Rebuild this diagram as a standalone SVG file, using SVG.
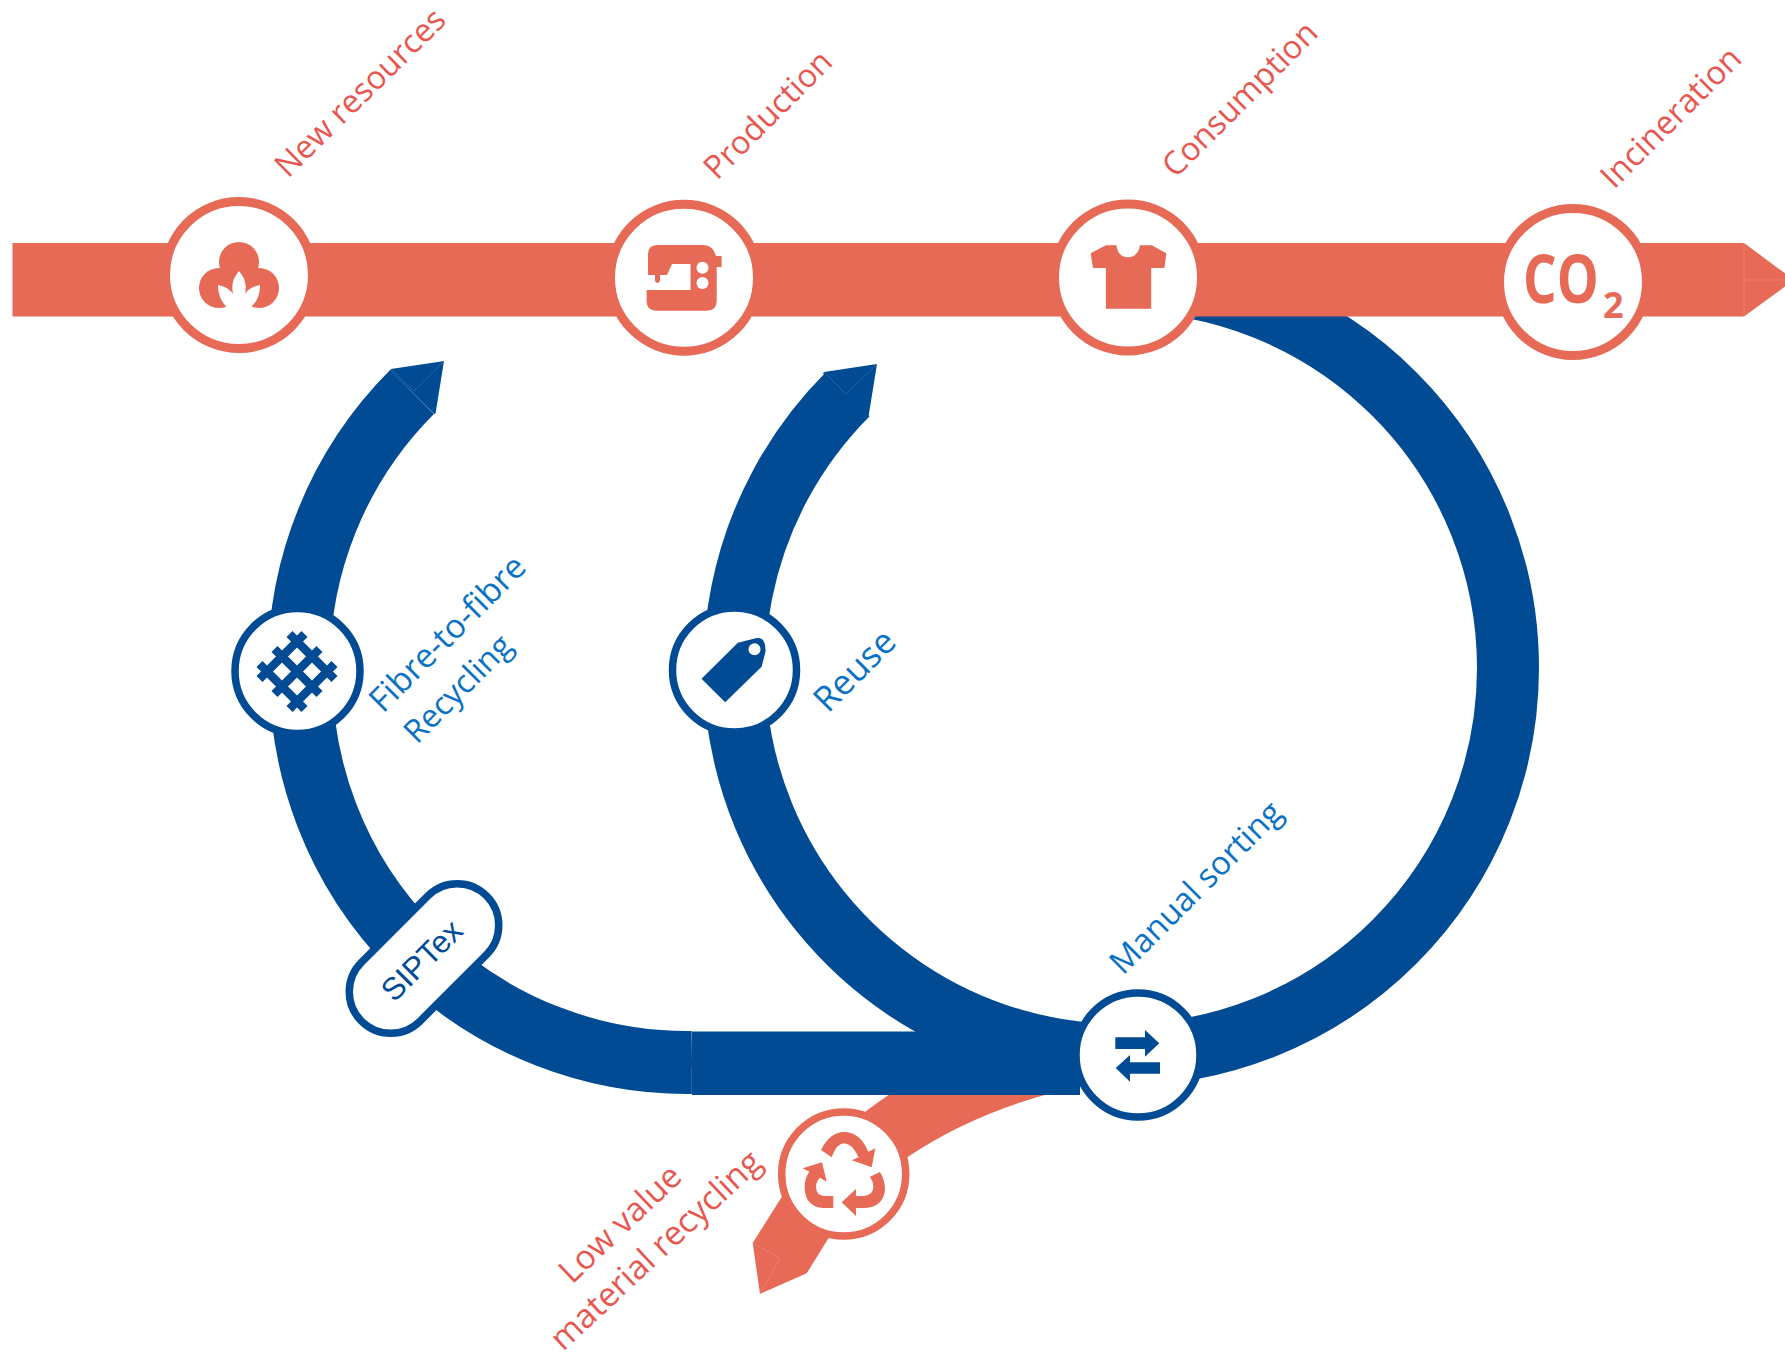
<svg xmlns="http://www.w3.org/2000/svg" width="1785" height="1356" viewBox="0 0 1785 1356">
<style>
.r{fill:#E66A55}
.b{fill:#014B95}
.cr{fill:#fff;stroke:#E66A55;stroke-width:9}
.cb{fill:#fff;stroke:#014B95;stroke-width:7.5}
.arc{fill:none;stroke:#014B95;stroke-width:62}
.lr{font-family:"Open Sans","Noto Sans",sans-serif;fill:#E8574F}
.lb{font-family:"Open Sans","Noto Sans",sans-serif;fill:#0A72C4}
.seam{fill:none;stroke:#fff;stroke-width:.6;stroke-opacity:.25}
</style>
<rect width="1785" height="1356" fill="#fff"/>
<g id="connectors">
<path id="tail" class="r" d="M896 1090Q820 1140 781.700 1197L752.700 1243L760 1294L806.700 1273.300L828 1239L908 1156.700Q975 1112 1060 1091Z"/>
<path class="seam" d="M752.700 1243L780 1258.300L760 1294"/>
<path class="arc" d="M1121 1055A387 387 0 0 0 1121 281"/>
<path class="arc" d="M847.500 394.500A387 387 0 0 0 1121 1055"/>
<polygon class="b" points="824,372 877,364 868.600,416 867.500,417.200 823,373.200"/>
<path class="seam" d="M824 372L846 394L877 364"/>
<path class="arc" d="M412 392A386 386 0 0 0 299 670"/>
<path class="arc" style="stroke-width:63" d="M301 670A386.500 386.500 0 0 0 692 1062.500"/>
<polygon class="b" points="391,369 444,361 435.600,413 434.500,414.200 390,370.200"/>
<path class="seam" d="M391 369L414 391L444 361"/>
<rect class="b" x="692" y="1031.500" width="388" height="63.500"/>
<path class="seam" d="M691.500 1067V1095"/>
<polygon id="main-bar" class="r" points="12.500,243 1744,243 1794,280 1744,316.500 12.500,316.500"/>
<path class="seam" d="M1744 243V316.500M1744 280H1785"/>
</g>
<g id="new-resources">
<circle class="cr" cx="239" cy="275" r="73.500"/>
<circle class="r" cx="239" cy="262" r="20"/><circle class="r" cx="219" cy="288" r="20"/><circle class="r" cx="259" cy="288" r="20"/>
<path fill="#fff" d="M239 271C233 278 231 285 233 294C230 289 224 286 218 285C218 294 221 302 227 307L227 314H251V307C257 302 260 294 260 285C254 286 248 289 245 294C247 285 245 278 239 271Z"/>
<text class="lr" font-size="32.300" transform="translate(288 179) rotate(-44.500)">New resources</text>
</g>
<g id="production">
<circle class="cr" cx="684" cy="277.700" r="73.500"/>
<path class="r" d="M648 275V254Q648 245 658 245H703Q713 245 716 256H721.600V267H716.700V301Q716.700 310.700 707 310.700H656Q646.600 310.700 646.600 301V290H690.500V264H672L667 275H660V281Q657.500 285 655 281V275Z"/>
<circle cx="702.500" cy="267.700" r="6" fill="#fff"/><circle cx="702.500" cy="283" r="6" fill="#fff"/>
<text class="lr" font-size="32.300" transform="translate(717 181) rotate(-45)">Production</text>
</g>
<g id="consumption">
<circle class="cr" cx="1128" cy="277.500" r="73.500"/>
<path class="r" d="M1090.700 253.300L1105.900 245.300H1116.600C1117 253 1122 257.300 1128 257.300C1134 257.300 1139 253 1140 245.300H1151.700L1166.300 253.300L1164.400 268H1151.200V308.700H1105.900V268H1093Z"/>
<text class="lr" font-size="32.400" transform="translate(1175.500 179) rotate(-45)">Consumption</text>
</g>
<g id="incineration">
<circle class="cr" cx="1573" cy="282" r="73.500"/>
<text transform="translate(1523 302.700) scale(.8 1)" font-family="Open Sans" font-weight="700" font-size="66" fill="#E66A55">CO</text>
<text x="1603" y="317.700" font-family="Open Sans" font-weight="700" font-size="36" fill="#E66A55">2</text>
<text class="lr" font-size="32.800" transform="translate(1614 190) rotate(-45)">Incineration</text>
</g>
<g id="fibre-recycling">
<circle class="cb" cx="297.500" cy="671" r="62.500"/>
<g transform="translate(297 671.500)" fill="none" stroke="#014B95" stroke-width="8.500">
<path d="M-37.500 7.500L7.500 -37.500M-22.500 22.500L22.500 -22.500M-7.500 37.500L37.500 -7.500M-37.500 -7.500L7.500 37.500M-22.500 -22.500L22.500 22.500M-7.500 -37.500L37.500 7.500"/>
</g>
<text class="lb" font-size="33.500" transform="translate(383 714) rotate(-45)">Fibre-to-fibre</text>
<text class="lb" font-size="32" transform="translate(417 745) rotate(-45)">Recycling</text>
</g>
<g id="reuse">
<circle class="cb" cx="734.500" cy="670" r="62"/>
<path class="b" d="M701.500 678.700L725.200 702.300L761.600 666.700L765.500 651.700Q766 636 755.700 638.300L737.900 642.700Z"/>
<circle cx="754.500" cy="649.300" r="6" fill="#fff"/>
<text class="lb" font-size="35" transform="translate(828 714) rotate(-45)">Reuse</text>
</g>
<g id="siptex">
<rect class="cb" x="335.500" y="917" width="177" height="83" rx="41.500" transform="rotate(-45 424 958.500)"/>
<text transform="rotate(-45 424 958.500)" x="421" y="969" text-anchor="middle" font-family="Liberation Sans" font-size="31.500" fill="#014B95">SIPTex</text>
</g>
<g id="manual-sorting">
<circle class="cb" cx="1138" cy="1055" r="62"/>
<path class="b" d="M1115.300 1037.300H1145V1030L1159.300 1043.300L1145 1056.700V1049H1115.300ZM1115.700 1068L1130 1055V1062.300H1160V1073.700H1130V1081.700Z"/>
<text class="lb" font-size="32.600" transform="translate(1123 976) rotate(-45)">Manual sorting</text>
</g>
<g id="low-value">
<circle class="cr" style="stroke-width:7.500" cx="843.700" cy="1174" r="62"/>
<g transform="translate(720 960) scale(.33333)" class="r">
<path d="M303 570Q330 516 372 516Q420 516 445 575L466 565L455 622L395 601L416 592Q396 550 372 550Q350 550 335 592Z"/>
<path d="M248 625L306 607L320 665L300 653Q288 665 288 680Q288 708 318 708H340V744H310Q254 740 254 680Q254 655 268 635Z"/>
<path d="M450 650L480 636Q495 660 495 690Q490 740 435 744H408V768L365 727L408 687V708H432Q460 705 460 680Q460 665 450 650Z"/>
</g>
<text class="lr" font-size="33.200" transform="translate(572 1285) rotate(-43.500)">Low value</text>
<text class="lr" font-size="33.400" transform="translate(563 1352) rotate(-43)">material recycling</text>
</g>
</svg>
